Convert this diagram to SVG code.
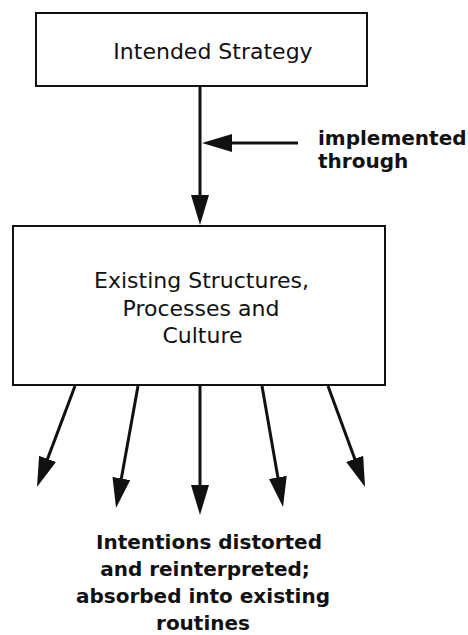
<svg xmlns="http://www.w3.org/2000/svg" width="468" height="635" viewBox="0 0 468 635">
  <style>
    .box { fill: #fff; stroke: #111; stroke-width: 2; }
    .label { font-family: "DejaVu Sans", "Liberation Sans", sans-serif; font-size: 22px; fill: #111; text-anchor: middle; }
    .note { font-family: "DejaVu Sans", "Liberation Sans", sans-serif; font-size: 20px; font-weight: bold; fill: #111; }
    .conn { stroke: #111; stroke-width: 3; fill: none; marker-end: url(#head); }
  </style>
  <defs>
    <marker id="head" markerUnits="userSpaceOnUse" markerWidth="32" markerHeight="20" refX="20" refY="9" orient="auto">
      <path d="M0,0 L30,9 L0,18 Z" fill="#111"/>
    </marker>
  </defs>
  <rect width="468" height="635" fill="#fff"/>

  <g id="connectors">
    <line class="conn" x1="200" y1="86" x2="200" y2="215"/>
    <line class="conn" x1="298" y1="143" x2="212" y2="143"/>
    <line class="conn" x1="75" y1="386" x2="40.5" y2="477.6"/>
    <line class="conn" x1="138" y1="386" x2="117.8" y2="498.2"/>
    <line class="conn" x1="200" y1="386" x2="200" y2="505"/>
    <line class="conn" x1="262" y1="386" x2="281.3" y2="497.1"/>
    <line class="conn" x1="328" y1="386" x2="361.6" y2="477.6"/>
  </g>

  <g id="intended-strategy">
    <rect class="box" x="36" y="13" width="331" height="73"/>
    <text class="label" x="213" y="59">Intended Strategy</text>
  </g>

  <g id="existing-structures">
    <rect class="box" x="13" y="226" width="372" height="159"/>
    <text class="label" x="201.5" y="288">Existing Structures,</text>
    <text class="label" x="201" y="316">Processes and</text>
    <text class="label" x="202.5" y="343">Culture</text>
  </g>

  <g id="implemented-through">
    <text class="note" x="318" y="145">implemented</text>
    <text class="note" x="318" y="168">through</text>
  </g>

  <g id="outcome">
    <text class="note" text-anchor="middle" x="209" y="549">Intentions distorted</text>
    <text class="note" text-anchor="middle" x="205" y="576">and reinterpreted;</text>
    <text class="note" text-anchor="middle" x="203" y="603">absorbed into existing</text>
    <text class="note" text-anchor="middle" x="203" y="630">routines</text>
  </g>
</svg>
